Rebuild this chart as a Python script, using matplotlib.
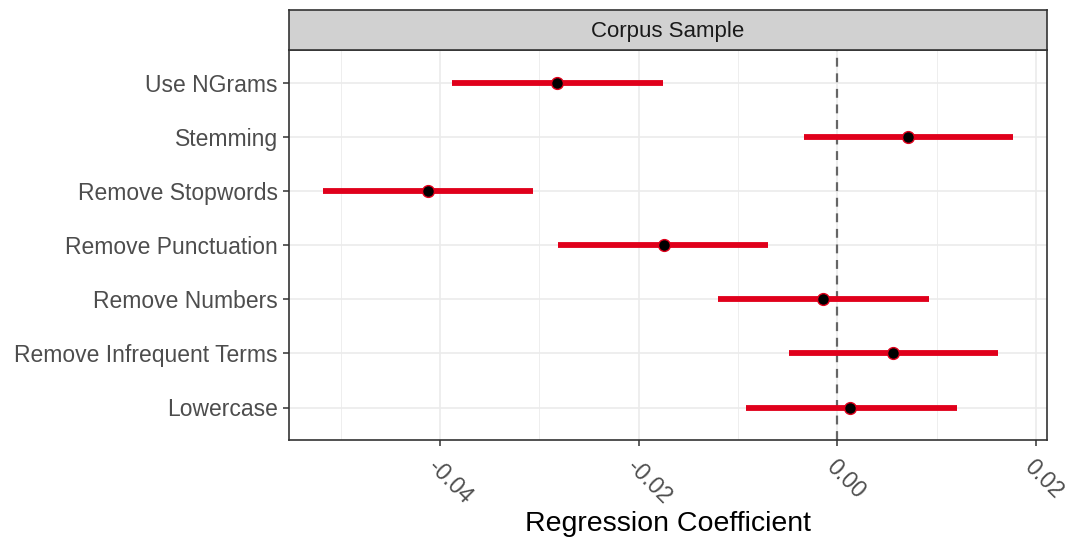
import matplotlib
matplotlib.use("Agg")
import matplotlib.pyplot as plt

categories = ["Use NGrams", "Stemming", "Remove Stopwords", "Remove Punctuation",
              "Remove Numbers", "Remove Infrequent Terms", "Lowercase"]
estimates = [-0.0282, 0.0071, -0.0412, -0.0175, -0.0014, 0.0056, 0.0013]
lower = [-0.0388, -0.0034, -0.0518, -0.0281, -0.0120, -0.0049, -0.0092]
upper = [-0.0176, 0.0177, -0.0306, -0.0070, 0.0092, 0.0162, 0.0120]
xticks = [-0.04, -0.02, 0.00, 0.02]
xtick_labels = ["-0.04", "-0.02", "0.00", "0.02"]
minor_ticks = [-0.05, -0.03, -0.01, 0.01]

plt.rcParams['font.family'] = ['Liberation Sans', 'DejaVu Sans']

fig = plt.figure(figsize=(10.67, 5.41), dpi=100)
W, H = 1067, 541
left, right, bottom, top = 289, 1047, 440, 50
ax = fig.add_axes([left / W, 1 - bottom / H, (right - left) / W, (bottom - top) / H])

n = len(categories)
ypos = [n - 1 - i for i in range(n)]

ax.set_xlim(-0.0552, 0.0211)
ax.set_ylim(-0.6, n - 1 + 0.6)

for m in minor_ticks:
    ax.axvline(m, color="#EBEBEB", lw=0.6, zorder=0)
for t in xticks:
    ax.axvline(t, color="#EBEBEB", lw=1.2, zorder=0)
for y in ypos:
    ax.axhline(y, color="#EBEBEB", lw=1.2, zorder=0)

ax.axvline(0, color="#666666", lw=1.6, ls=(0, (4, 3)), zorder=1)

for y, e, lo, hi in zip(ypos, estimates, lower, upper):
    ax.plot([lo, hi], [y, y], color="#E0001B", lw=4.2, solid_capstyle="butt", zorder=2)
    ax.plot([e], [y], marker="o", ms=8.5, mfc="black", mec="#E0001B", mew=1.0, zorder=3)

ax.set_yticks(ypos)
ax.set_yticklabels(categories, fontsize=16.5, color="#4D4D4D")
ax.set_xticks(xticks)
ax.set_xticklabels(xtick_labels, fontsize=16.5, color="#4D4D4D",
                   rotation=-45, ha="left", va="top", rotation_mode="anchor")
ax.tick_params(axis="both", length=4, width=1.1, color="#333333", pad=4)
ax.tick_params(axis="x", pad=7)
for lab in ax.get_xticklabels():
    pass

for s in ax.spines.values():
    s.set_color("#333333")
    s.set_linewidth(1.2)

fig.text(668 / W, 1 - 524 / H, "Regression Coefficient", fontsize=20.5,
         color="black", ha="center", va="center")

# facet strip
sax = fig.add_axes([left / W, 1 - top / H, (right - left) / W, 40 / H])
sax.set_xlim(0, 1); sax.set_ylim(0, 1)
sax.set_xticks([]); sax.set_yticks([])
sax.set_facecolor("#D1D1D1")
for s in sax.spines.values():
    s.set_color("#333333")
    s.set_linewidth(1.2)
sax.text(0.5, 0.47, "Corpus Sample", ha="center", va="center", fontsize=16, color="#1A1A1A")

fig.savefig("out.png", dpi=100)
